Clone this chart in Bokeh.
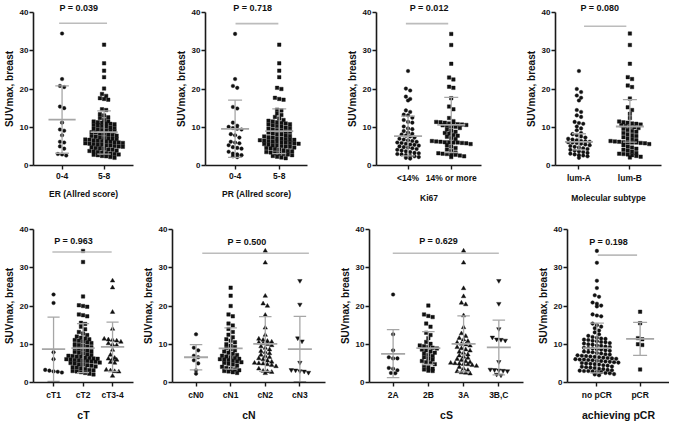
from bokeh.plotting import figure
from bokeh.layouts import column, row
from bokeh.models import Range1d, FixedTicker, Label, Title
from bokeh.embed import file_html
from bokeh.resources import INLINE

FONT = "Liberation Sans"

# ---------------- data ----------------
er_labels = ["0-4", "5-8"]
er_0_4 = [34.5, 22.6, 20.8, 20.5, 15.4, 15.0, 11.2, 9.4, 9.1, 7.9, 6.2, 6.0, 5.0, 4.4, 3.0, 2.9, 2.6]
er_5_8 = [31.6, 26.7, 24.8, 23.1, 20.1, 18.7, 18.2, 17.6, 17.4, 17.2, 14.7, 14.5, 13.4, 13.1, 12.6, 12.4,
          11.9, 11.6, 11.5, 11.3, 11.2, 11.0, 10.9, 10.8, 10.6, 10.5, 10.3, 10.1,
          9.9, 9.8, 9.6, 9.5, 9.3, 9.1, 9.0, 8.9, 8.7, 8.6, 8.4, 8.3, 8.1, 8.0,
          7.8, 7.7, 7.5, 7.4, 7.2, 7.1, 7.0, 6.9, 6.8, 6.7, 6.6, 6.5, 6.4, 6.3, 6.2, 6.1, 6.0,
          5.9, 5.8, 5.7, 5.6, 5.5, 5.4, 5.3, 5.2, 5.1, 5.0, 4.9, 4.8, 4.6, 4.5, 4.4, 4.2, 4.1,
          3.9, 3.8, 3.7, 3.5, 3.4, 3.2, 3.1, 3.0, 2.9, 2.8, 2.7, 2.5, 2.4, 2.2, 2.0]
er_mean = [12.0, 8.7]
er_low = [3.2, 3.0]
er_high = [20.8, 14.3]
er_p = "P = 0.039"

pr_labels = ["0-4", "5-8"]
pr_0_4 = [34.4, 22.6, 20.8, 20.3, 15.3, 14.9, 11.2, 10.4, 10.1, 9.8, 9.6, 9.4, 8.2, 7.9, 7.3, 6.2, 6.0,
          5.8, 5.3, 4.8, 4.6, 4.4, 3.6, 3.1, 2.9, 2.7, 2.4, 2.2]
pr_5_8 = [31.6, 26.7, 24.8, 23.1, 20.3, 20.0, 17.7, 17.4, 17.2, 14.6, 14.4, 13.6, 13.2, 12.7, 12.3,
          11.9, 11.7, 11.5, 11.3, 11.1, 11.0, 10.8, 10.7, 10.5, 10.3, 10.1, 9.9, 9.8, 9.6, 9.4, 9.2,
          9.1, 8.9, 8.8, 8.6, 8.4, 8.2, 8.1, 7.9, 7.7, 7.6, 7.4, 7.3, 7.1, 7.0, 6.9, 6.8, 6.7, 6.6,
          6.5, 6.4, 6.3, 6.2, 6.1, 6.0, 5.9, 5.8, 5.7, 5.6, 5.5, 5.3, 5.2, 5.1, 5.0, 4.9, 4.7, 4.6,
          4.5, 4.3, 4.1, 4.0, 3.8, 3.7, 3.5, 3.4, 3.2, 3.1, 3.0, 2.9, 2.7, 2.5, 2.3, 2.1, 1.9]
pr_mean = [9.6, 9.0]
pr_low = [2.1, 3.1]
pr_high = [17.1, 14.8]
pr_p = "P = 0.718"

ki_labels = ["<14%", "14% or more"]
ki_low_grp = [24.7, 20.1, 19.6, 18.0, 17.4, 17.0, 14.4, 14.0, 13.3, 13.1, 12.5, 11.9, 11.4, 11.2, 10.2,
              9.7, 9.5, 9.0, 8.6, 8.3, 8.1, 7.8, 7.6, 7.3, 7.0, 6.8, 6.6, 6.4, 6.2, 6.0, 5.9, 5.7,
              5.5, 5.4, 5.2, 5.0, 4.8, 4.7, 4.5, 4.3, 4.1, 3.9, 3.7, 3.5, 3.3, 3.2, 3.0, 2.9, 2.7,
              2.5, 2.4, 2.2, 2.0, 1.8]
ki_high_grp = [34.4, 31.5, 26.6, 23.0, 22.5, 20.6, 20.3, 17.6, 15.4, 14.7, 12.4, 11.6, 11.4, 11.3,
               11.2, 11.0, 10.9, 10.8, 10.7, 10.6, 10.5, 10.4, 10.2, 10.1, 9.8, 9.4, 9.1, 8.8, 8.5,
               8.3, 8.0, 7.8, 7.5, 7.2, 6.9, 6.4, 6.3, 6.2, 6.1, 6.1, 6.0, 6.0, 5.9, 5.8, 5.6, 5.3,
               5.0, 4.6, 4.2, 3.8, 3.4, 3.2, 3.1, 3.0, 2.9, 2.8, 2.6, 2.4, 2.2]
ki_mean = [7.7, 10.6]
ki_low = [2.5, 3.4]
ki_high = [12.9, 17.8]
ki_p = "P = 0.012"

lum_labels = ["lum-A", "lum-B"]
lum_a = [24.7, 20.0, 19.2, 18.3, 17.7, 17.0, 14.5, 14.0, 13.1, 12.7, 11.4, 11.1, 10.9, 10.2, 9.7,
         9.2, 8.5, 8.2, 7.9, 7.6, 7.3, 7.0, 6.8, 6.6, 6.4, 6.3, 6.2, 6.1, 6.0, 5.9, 5.7, 5.5, 5.3,
         5.1, 4.9, 4.7, 4.5, 4.3, 4.1, 3.9, 3.7, 3.5, 3.3, 3.1, 2.9, 2.7, 2.6, 2.4, 2.0]
lum_b = [34.5, 31.5, 26.6, 23.1, 22.6, 20.9, 20.5, 17.5, 15.2, 14.5, 13.5, 12.4, 11.5, 11.3, 11.2,
         11.0, 10.9, 10.7, 10.5, 10.3, 10.1, 10.0, 9.8, 9.6, 9.3, 9.0, 8.8, 8.5, 8.2, 7.9, 7.7,
         7.4, 7.1, 6.9, 6.6, 6.4, 6.3, 6.2, 6.1, 6.1, 6.0, 6.0, 5.9, 5.8, 5.6, 5.3, 5.0, 4.7, 4.4,
         4.1, 3.9, 3.6, 3.3, 3.1, 3.0, 2.9, 2.7, 2.5, 2.3, 2.1]
lum_mid = [6.2, 10.2]
lum_low = [4.1, 6.1]
lum_high = [8.3, 17.2]
lum_p = "P = 0.080"

ct_labels = ["cT1", "cT2", "cT3-4"]
ct1 = [23.0, 20.8, 7.9, 6.1, 3.3, 3.1, 2.9, 2.8, 2.6]
ct2 = [34.4, 31.5, 22.5, 20.2, 20.0, 19.8, 17.8, 17.6, 17.3, 15.6, 15.3, 14.6, 13.9, 13.2, 12.8,
       12.4, 12.0, 11.7, 11.5, 11.3, 11.1, 10.9, 10.7, 10.5, 10.3, 10.0, 9.8, 9.6, 9.4, 9.2, 9.0,
       8.8, 8.6, 8.4, 8.2, 8.0, 7.8, 7.6, 7.4, 7.2, 7.0, 6.9, 6.8, 6.7, 6.5, 6.4, 6.3, 6.2, 6.1,
       6.0, 5.9, 5.8, 5.7, 5.6, 5.5, 5.4, 5.2, 5.1, 5.0, 4.8, 4.7, 4.5, 4.4, 4.2, 4.0, 3.9, 3.7,
       3.5, 3.3, 3.2, 3.0, 2.9, 2.7, 2.5, 2.3, 2.1]
ct34 = [26.6, 24.8, 18.4, 14.0, 11.4, 11.2, 11.1, 10.9, 10.6, 10.2, 9.9, 9.7, 8.5, 7.2, 6.4, 6.2,
        6.1, 5.9, 5.3, 5.1, 3.3, 3.1, 2.9, 2.8, 1.7]
ct_mean = [8.7, 9.0, 9.3]
ct_low = [0.3, 2.6, 2.9]
ct_high = [17.1, 15.4, 15.8]
ct_p = "P = 0.963"

cn_labels = ["cN0", "cN1", "cN2", "cN3"]
cn0 = [12.6, 9.1, 8.4, 7.0, 6.6, 5.8, 5.0, 3.2, 2.3]
cn1 = [24.8, 22.7, 20.0, 17.8, 17.3, 15.4, 14.9, 14.0, 13.2, 12.5, 11.8, 11.3, 10.9, 10.5, 10.0,
       9.6, 9.3, 9.0, 8.7, 8.4, 8.1, 7.8, 7.5, 7.2, 7.0, 6.8, 6.6, 6.4, 6.2, 6.1, 6.0, 5.9, 5.7,
       5.5, 5.3, 5.1, 4.9, 4.7, 4.4, 4.1, 3.8, 3.6, 3.4, 3.2, 3.0, 2.9, 2.7, 2.5]
cn2 = [34.4, 31.3, 22.6, 20.6, 20.0, 17.6, 14.3, 12.4, 11.4, 11.1, 10.8, 10.6, 10.4, 10.2, 10.0,
       9.7, 9.4, 9.0, 8.6, 8.2, 7.9, 7.6, 7.2, 6.9, 6.6, 6.3, 6.0, 5.7, 5.4, 5.1, 5.0, 4.9, 4.7,
       4.5, 4.2, 3.6, 3.0, 2.9, 2.7, 2.4]
cn3 = [26.6, 20.4, 11.6, 10.8, 5.2, 3.3, 3.2, 3.0, 2.9, 2.6]
cn_mean = [6.6, 8.9, 10.1, 8.7]
cn_low = [3.3, 3.5, 2.9, 0.2]
cn_high = [9.9, 14.3, 17.2, 17.3]
cn_p = "P = 0.500"

cs_labels = ["2A", "2B", "3A", "3B,C"]
cs_2a = [23.0, 12.6, 8.4, 6.6, 6.3, 6.3, 3.8, 3.6, 3.2, 2.5, 2.4]
cs_2b = [20.1, 17.8, 17.4, 17.1, 15.4, 14.6, 13.0, 12.4, 11.6, 10.6, 10.1, 9.7, 9.5, 9.3, 9.1, 8.9,
         8.6, 8.4, 8.1, 7.8, 7.6, 7.2, 6.9, 6.6, 6.2, 6.0, 5.6, 5.3, 5.1, 4.8, 4.4, 4.0, 3.6, 3.4,
         3.1, 3.0]
cs_3a = [34.4, 31.3, 24.6, 22.5, 20.8, 20.4, 17.5, 14.4, 12.8, 12.1, 11.6, 11.2, 10.8, 10.4, 10.1,
         9.9, 9.6, 9.2, 8.9, 8.6, 8.3, 8.0, 7.7, 7.3, 7.0, 6.7, 6.4, 6.1, 5.8, 5.5, 5.3, 5.1, 5.0,
         4.9, 4.8, 4.7, 4.5, 4.3, 4.0, 3.6, 3.2, 2.9, 2.6, 2.5, 2.3]
cs_3bc = [26.6, 20.6, 14.0, 11.8, 11.3, 11.2, 11.0, 5.4, 3.4, 3.3, 3.2, 3.1, 3.0, 2.1, 1.9]
cs_mean = [7.5, 9.0, 10.1, 9.2]
cs_low = [1.3, 4.7, 2.8, 2.0]
cs_high = [13.8, 13.3, 17.4, 16.3]
cs_p = "P = 0.629"

pcr_labels = ["no pCR", "pCR"]
no_pcr = [34.4, 31.3, 26.6, 24.7, 22.8, 22.4, 20.9, 20.6, 20.1, 19.9, 17.8, 17.5, 17.3, 15.4, 15.0,
          14.6, 14.2, 13.6, 13.1, 12.6, 12.2, 11.9, 11.7, 11.5, 11.4, 11.2, 11.1, 10.9, 10.8, 10.6,
          10.5, 10.3, 10.2, 10.0, 9.9, 9.7, 9.6, 9.4, 9.3, 9.1, 9.0, 8.9, 8.7, 8.6, 8.4, 8.3, 8.1,
          8.0, 7.9, 7.7, 7.6, 7.4, 7.3, 7.1, 7.0, 6.9, 6.8, 6.7, 6.6, 6.5, 6.4, 6.3, 6.2, 6.1, 6.0,
          6.0, 5.9, 5.8, 5.7, 5.6, 5.5, 5.4, 5.3, 5.2, 5.1, 5.0, 4.9, 4.8, 4.7, 4.5, 4.4, 4.2, 4.1,
          4.0, 3.9, 3.8, 3.6, 3.5, 3.3, 3.2, 3.1, 3.0, 3.0, 2.9, 2.8, 2.7, 2.5, 2.4, 2.2, 2.1, 1.9]
pcr = [18.5, 15.5, 11.6, 11.3, 10.0, 9.8, 3.4]
pcr_mean = [9.0, 11.4]
pcr_low = [2.5, 7.1]
pcr_high = [15.5, 15.7]
pcr_p = "P = 0.198"

y_ticks = [0, 10, 20, 30, 40]
y_title = "SUVmax, breast"

# ---------------- layout / style ----------------
MARKERS = ["circle", "square", "triangle", "inverted_triangle"]
MSIZE = {"circle": 3.6, "square": 3.5, "triangle": 4.5, "inverted_triangle": 4.5}
BAR = "#a6a6a6"
PLINE = "#bcbcbc"
AX = "#1a1a1a"
FRAME_H = 153


def swarm(vals, dx, dy):
    vs = sorted(vals, reverse=True)
    xs, ys, rowv = [], [], []

    def flush(r):
        k = len(r)
        for i, v in enumerate(r):
            xs.append((i - (k - 1) / 2.0) * dx)
            ys.append(v)

    for v in vs:
        if rowv and rowv[0] - v > dy:
            flush(rowv)
            rowv = []
        rowv.append(v)
    flush(rowv)
    return xs, ys


def panel(labels, groups, mid, lo, hi, ptxt, xtitle, w, bl, br, bt, xr,
          pline, ptext_pos, top_row):
    p = figure(width=w, frame_height=FRAME_H, output_backend="svg", toolbar_location=None, tools="",
               x_range=Range1d(*xr), y_range=Range1d(0, 40),
               min_border_left=bl, min_border_right=br, min_border_top=bt, min_border_bottom=4)
    p.outline_line_color = None
    p.xgrid.visible = False
    p.ygrid.visible = False
    p.background_fill_color = "white"
    p.border_fill_color = "white"
    fw = w - bl - br
    ppu = fw / (xr[1] - xr[0])
    dx = 4.3 / ppu
    n = len(labels)
    for i, g in enumerate(groups):
        ox, oy = swarm(g, dx, 0.9)
        mk = MARKERS[i]
        p.scatter([i + 1 + o for o in ox], oy, marker=mk, size=MSIZE[mk],
                  fill_color="#111111", line_color="#111111", line_width=0.4)
    mw = (28.0 if n == 2 else 24.0) / 2 / ppu
    cw = (14.0 if n == 2 else 12.5) / 2 / ppu
    cx = [i + 1 for i in range(n)]
    p.segment(x0=cx, y0=lo, x1=cx, y1=hi, line_color=BAR, line_width=1.3)
    p.segment(x0=[c - cw for c in cx], y0=lo, x1=[c + cw for c in cx], y1=lo, line_color=BAR, line_width=1.3)
    p.segment(x0=[c - cw for c in cx], y0=hi, x1=[c + cw for c in cx], y1=hi, line_color=BAR, line_width=1.3)
    p.segment(x0=[c - mw for c in cx], y0=mid, x1=[c + mw for c in cx], y1=mid, line_color=BAR, line_width=1.8)
    p.segment(x0=[pline[0]], y0=[pline[2]], x1=[pline[1]], y1=[pline[2]], line_color=PLINE, line_width=1.6)
    if top_row:
        p.add_layout(Title(text=ptxt, align="left", offset=(ptext_pos[0] - xr[0]) * ppu,
                           text_font=FONT, text_font_size="9px", text_font_style="bold",
                           text_color="#111111", standoff=0), "above")
    else:
        p.add_layout(Label(x=ptext_pos[0], y=ptext_pos[1], text=ptxt, text_align="center",
                           text_baseline="alphabetic", text_font=FONT, text_font_size="9px",
                           text_font_style="bold", text_color="#111111"))

    xa = p.xaxis[0]
    xa.ticker = FixedTicker(ticks=cx)
    xa.major_label_overrides = {c: lab for c, lab in zip(cx, labels)}
    xa.axis_label = xtitle
    ya = p.yaxis[0]
    ya.ticker = FixedTicker(ticks=y_ticks)
    ya.axis_label = y_title
    for a in (xa, ya):
        a.axis_line_color = AX
        a.axis_line_width = 1.6
        a.major_tick_line_color = AX
        a.major_tick_line_width = 1.4
        a.major_tick_in = 0
        a.major_tick_out = 4
        a.minor_tick_line_color = None
        a.major_label_text_font = FONT
        a.major_label_text_font_style = "bold"
        a.major_label_text_color = "#111111"
        a.axis_label_text_font = FONT
        a.axis_label_text_font_style = "bold"
        a.axis_label_text_color = "#111111"
    xa.major_label_text_font_size = "8.5px"
    ya.major_label_text_font_size = "8px"
    ya.major_label_standoff = 1
    ya.axis_label_standoff = 2
    ya.axis_label_text_font_size = "10px"
    xa.major_label_standoff = 3
    if top_row:
        xa.axis_label_text_font_size = "8.5px"
        xa.axis_label_standoff = 7
    else:
        xa.axis_label_text_font_size = "10.5px"
        xa.axis_label_standoff = 6
    return p


T_BT, B_BT = 10, 24

p1 = panel(er_labels, [er_0_4, er_5_8], er_mean, er_low, er_high, er_p, "ER (Allred score)",
           167, 30, 34, T_BT, (0.32, 2.70), (0.93, 2.07, 37.2), (0.92, 0), True)
p2 = panel(pr_labels, [pr_0_4, pr_5_8], pr_mean, pr_low, pr_high, pr_p, "PR (Allred score)",
           170, 38, 30, T_BT, (0.33, 2.64), (1.01, 1.98, 37.1), (0.96, 0), True)
p3 = panel(ki_labels, [ki_low_grp, ki_high_grp], ki_mean, ki_low, ki_high, ki_p, "Ki67",
           177, 39, 33, T_BT, (0.27, 2.70), (0.95, 1.93, 37.1), (1.04, 0), True)
p4 = panel(lum_labels, [lum_a, lum_b], lum_mid, lum_low, lum_high, lum_p, "Molecular subtype",
           155, 41, 8, T_BT, (0.54, 2.62), (1.10, 1.93, 36.4), (1.03, 0), True)

p5 = panel(ct_labels, [ct1, ct2, ct34], ct_mean, ct_low, ct_high, ct_p, "cT",
           138, 30, 5, B_BT, (0.32, 3.71), (0.96, 2.97, 34.1), (1.68, 37.0), False)
p6 = panel(cn_labels, [cn0, cn1, cn2, cn3], cn_mean, cn_low, cn_high, cn_p, "cN",
           194, 34, 7, B_BT, (0.32, 4.74), (1.18, 4.26, 33.8), (2.47, 36.8), False)
p7 = panel(cs_labels, [cs_2a, cs_2b, cs_3a, cs_3bc], cs_mean, cs_low, cs_high, cs_p, "cS",
           197, 37, 6, B_BT, (0.33, 4.70), (0.99, 4.00, 33.8), (2.29, 37.0), False)
p8 = panel(pcr_labels, [no_pcr, pcr], pcr_mean, pcr_low, pcr_high, pcr_p, "achieving pCR",
           140, 38, 0, B_BT, (0.32, 2.68), (1.02, 1.93, 33.3), (1.27, 36.7), False)

layout = column(row(p1, p2, p3, p4, spacing=0), row(p5, p6, p7, p8, spacing=0), spacing=0)

open("out.html", "w").write(file_html(layout, INLINE))
